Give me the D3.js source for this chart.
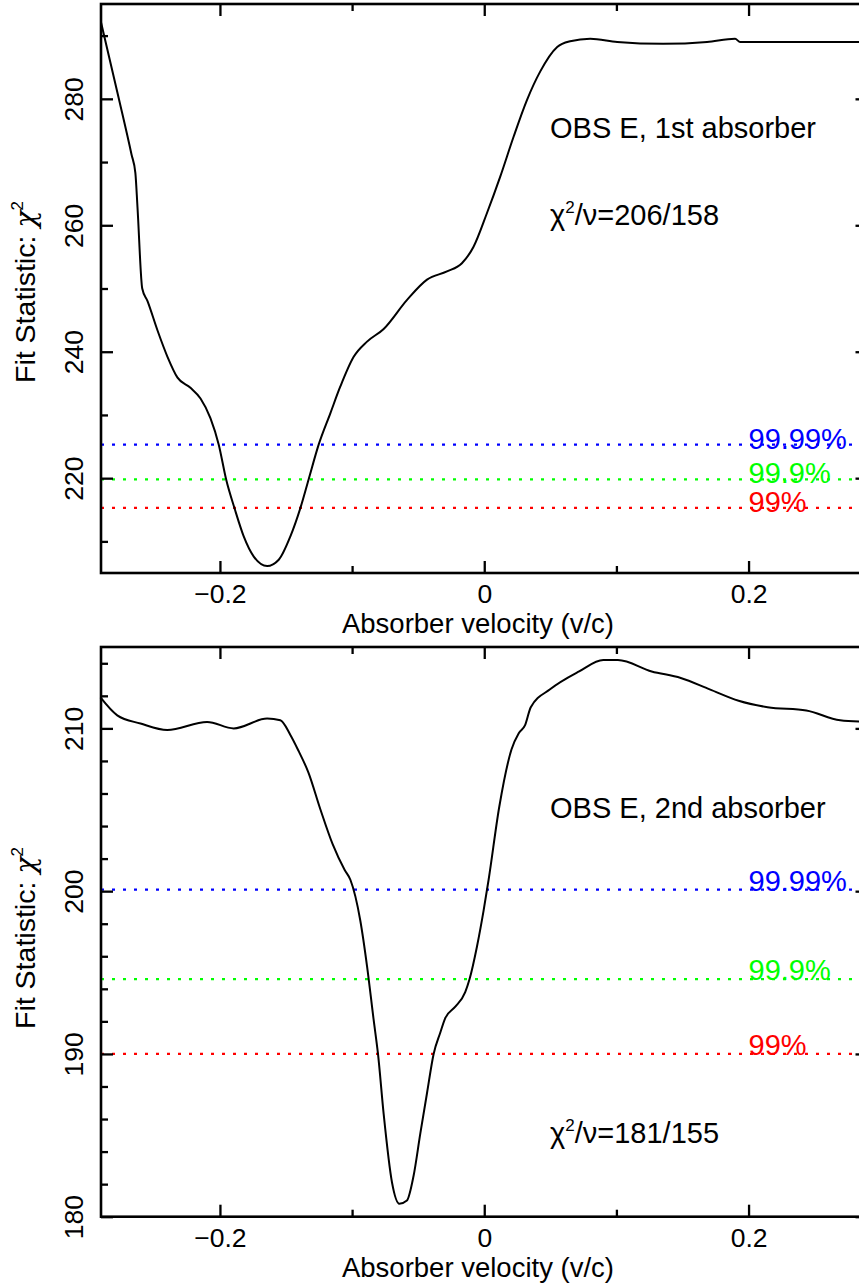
<!DOCTYPE html>
<html>
<head>
<meta charset="utf-8">
<script src="https://cdn.jsdelivr.net/npm/d3@7"></script>
<style>
  body { margin: 0; background: #fff; }
  svg { display: block; font-family: "Liberation Sans", Arial, Helvetica, sans-serif; }
  .frame { fill: none; stroke: #000; stroke-width: 2.6px; }
  .axis path.domain { display: none; }
  .axis line { stroke: #000; stroke-width: 2.3px; }
  .axis text { font-size: 26.5px; fill: #000; font-family: "Liberation Sans", Arial, sans-serif; }
  .curve { fill: none; stroke: #000; stroke-width: 2px; }
  .level { stroke-width: 2.2px; stroke-dasharray: 3,8; }
</style>
</head>
<body>
<svg id="chart" width="859" height="1287"></svg>
<script>
// x ticks (shared by both panels)
var xTicks = [-0.2, 0, 0.2];
var xMinorTicks = [-0.1, 0.1];

// top panel: 1st absorber
var topVelocity = [-0.29, -0.2768, -0.2669, -0.264, -0.2624, -0.2588, -0.2548, -0.2473, -0.2397, -0.2321,
  -0.2223, -0.2147, -0.2072, -0.2009, -0.1952, -0.1889, -0.182, -0.1744, -0.1643, -0.1555,
  -0.1467, -0.1391, -0.1329, -0.1253, -0.1164, -0.1089, -0.0988, -0.0887, -0.0761, -0.0584,
  -0.0433, -0.0282, -0.0169, -0.0081, 0.002, 0.0121, 0.0222, 0.0323, 0.0423, 0.0552,
  0.065, 0.0802, 0.1006, 0.1353, 0.1686, 0.1898, 0.1936, 0.211, 0.29];
var topChi2 = [292.1, 280.3, 271.2, 268.3, 262.9, 250.0, 248.0, 243.4, 239.2, 235.9,
  234.3, 232.6, 229.5, 225.3, 219.7, 215.2, 210.8, 207.6, 206.1, 207.1,
  210.8, 215.3, 219.8, 225.3, 230.3, 234.5, 239.2, 241.6, 243.6, 248.2,
  251.4, 252.7, 254.0, 256.6, 261.9, 267.7, 274.0, 279.8, 284.3, 288.2,
  289.1, 289.5, 289.0, 288.7, 289.0, 289.5, 289.0, 289.0, 289.0];
var topYTicks = [220, 240, 260, 280];
var topYMinorTicks = [210, 230, 250, 270, 290];
var topLevels = [215.3, 219.8, 225.3];

// bottom panel: 2nd absorber
var bottomVelocity = [-0.2904, -0.2777, -0.2601, -0.2399, -0.2097, -0.1896, -0.1643, -0.1543, -0.1467, -0.1404,
  -0.1331, -0.1239, -0.1148, -0.1056, -0.1013, -0.0938, -0.0887, -0.0837, -0.0804, -0.0761,
  -0.0698, -0.0643, -0.0585, -0.0535, -0.0484, -0.0433, -0.0383, -0.0333, -0.0295, -0.0219,
  -0.0144, -0.0111, -0.0055, -0.0005, 0.0033, 0.0114, 0.0206, 0.0261, 0.0309, 0.0352,
  0.0498, 0.0718, 0.0901, 0.1011, 0.1267, 0.1487, 0.1706, 0.1925, 0.2144, 0.2437,
  0.2693, 0.29];
var bottomChi2 = [211.9, 210.8, 210.3, 209.9, 210.4, 210.0, 210.6, 210.5, 209.6, 208.6,
  207.3, 205.0, 202.9, 201.3, 200.7, 198.2, 195.4, 192.1, 190.0, 186.3,
  182.1, 180.8, 181.0, 182.5, 185.1, 187.6, 190.0, 191.3, 192.2, 192.9,
  193.8, 194.6, 196.6, 198.8, 200.7, 205.2, 208.7, 209.7, 210.2, 211.3,
  212.4, 213.5, 214.2, 214.2, 213.5, 213.1, 212.4, 211.7, 211.3, 211.1,
  210.5, 210.4];
var bottomYTicks = [180, 190, 200, 210];
var bottomYMinorTicks = [182, 184, 186, 188, 192, 194, 196, 198, 202, 204, 206, 208, 212, 214];
var bottomLevels = [190.0, 194.6, 200.1];

// confidence levels (same order as the *Levels arrays)
var levelNames = ["99%", "99.9%", "99.99%"];
var levelColors = ["#ff0000", "#00ff00", "#0000ff"];

var svg = d3.select("#chart");
var left = 101, right = 867.5;

var x = d3.scaleLinear().domain([-0.29, 0.29]).range([left, right]);

drawPanel({
  top: 4, bottom: 573, domain: [205, 295],
  vel: topVelocity, chi: topChi2,
  major: topYTicks, minor: topYMinorTicks, levels: topLevels,
  title: "OBS E, 1st absorber", titleY: 138,
  fit: ["206", "158"], fitY: 225, labelDy: 4, yTitleY: 292
});

drawPanel({
  top: 647, bottom: 1216.7, domain: [180, 215],
  vel: bottomVelocity, chi: bottomChi2,
  major: bottomYTicks, minor: bottomYMinorTicks, levels: bottomLevels,
  title: "OBS E, 2nd absorber", titleY: 818,
  fit: ["181", "155"], fitY: 1143, labelDy: 1, yTitleY: 938
});

function drawPanel(p) {
  var y = d3.scaleLinear().domain(p.domain).range([p.bottom, p.top]);
  var g = svg.append("g");

  // dotted confidence levels
  g.selectAll(".level")
    .data(p.levels)
    .enter().append("line")
      .attr("class", "level")
      .attr("x1", left).attr("x2", right)
      .attr("y1", function(d) { return y(d); })
      .attr("y2", function(d) { return y(d); })
      .attr("stroke", function(d, i) { return levelColors[i]; });

  g.selectAll(".lvlabel")
    .data(p.levels)
    .enter().append("text")
      .attr("x", x(0.2))
      .attr("y", function(d) { return y(d) + p.labelDy; })
      .attr("fill", function(d, i) { return levelColors[i]; })
      .style("font-size", "29px")
      .text(function(d, i) { return levelNames[i]; });

  // chi2 curve
  var line = d3.line()
    .x(function(d, i) { return x(p.vel[i]); })
    .y(function(d) { return y(d); })
    .curve(d3.curveMonotoneX);
  g.append("path")
    .attr("class", "curve")
    .attr("d", line(p.chi));

  // ticks, all pointing inward
  g.append("g").attr("class", "axis")
    .attr("transform", "translate(0," + p.bottom + ")")
    .call(d3.axisBottom(x).tickValues(xTicks).tickSize(-12).tickPadding(11)
      .tickFormat(function(d) { return d === 0 ? "0" : d3.format(".1f")(d).replace("-", "\u2212"); }));
  g.append("g").attr("class", "axis")
    .attr("transform", "translate(0," + p.bottom + ")")
    .call(d3.axisBottom(x).tickValues(xMinorTicks).tickSize(-7).tickFormat(""));
  g.append("g").attr("class", "axis")
    .attr("transform", "translate(0," + p.top + ")")
    .call(d3.axisTop(x).tickValues(xTicks).tickSize(-12).tickFormat(""));
  g.append("g").attr("class", "axis")
    .attr("transform", "translate(0," + p.top + ")")
    .call(d3.axisTop(x).tickValues(xMinorTicks).tickSize(-7).tickFormat(""));

  var yl = g.append("g").attr("class", "axis")
    .attr("transform", "translate(" + left + ",0)")
    .call(d3.axisLeft(y).tickValues(p.major).tickSize(-12).tickFormat(d3.format("d")));
  yl.selectAll("text")
    .attr("x", null).attr("dy", null)
    .attr("text-anchor", "middle")
    .attr("transform", "translate(-17.7,0) rotate(-90)");
  g.append("g").attr("class", "axis")
    .attr("transform", "translate(" + left + ",0)")
    .call(d3.axisLeft(y).tickValues(p.minor).tickSize(-7).tickFormat(""));
  g.append("g").attr("class", "axis")
    .attr("transform", "translate(" + right + ",0)")
    .call(d3.axisRight(y).tickValues(p.major).tickSize(-12).tickFormat(""));
  g.append("g").attr("class", "axis")
    .attr("transform", "translate(" + right + ",0)")
    .call(d3.axisRight(y).tickValues(p.minor).tickSize(-7).tickFormat(""));

  g.append("rect")
    .attr("class", "frame")
    .attr("x", left).attr("y", p.top)
    .attr("width", right - left).attr("height", p.bottom - p.top);

  // axis titles
  g.append("text")
    .attr("x", 478).attr("y", p.bottom + 60)
    .attr("text-anchor", "middle")
    .style("font-size", "27.5px")
    .text("Absorber velocity (v/c)");

  var yt = g.append("text")
    .attr("text-anchor", "middle")
    .attr("transform", "translate(35," + p.yTitleY + ") rotate(-90)")
    .style("font-size", "28.5px");
  yt.append("tspan").text("Fit Statistic: ");
  yt.append("tspan").style("font-family", "'DejaVu Serif', serif").style("font-style", "italic").text("\u03c7");
  yt.append("tspan").attr("dy", -12).style("font-size", "17px").text("2");

  // annotations
  g.append("text")
    .attr("x", 550).attr("y", p.titleY)
    .style("font-size", "29px")
    .text(p.title);

  var ft = g.append("text")
    .attr("x", 550).attr("y", p.fitY)
    .style("font-size", "29px");
  ft.append("tspan").text("\u03c7");
  ft.append("tspan").attr("dy", -12).style("font-size", "17px").text("2");
  ft.append("tspan").attr("dy", 12).text("/\u03bd=" + p.fit[0] + "/" + p.fit[1]);
}
</script>
</body>
</html>
